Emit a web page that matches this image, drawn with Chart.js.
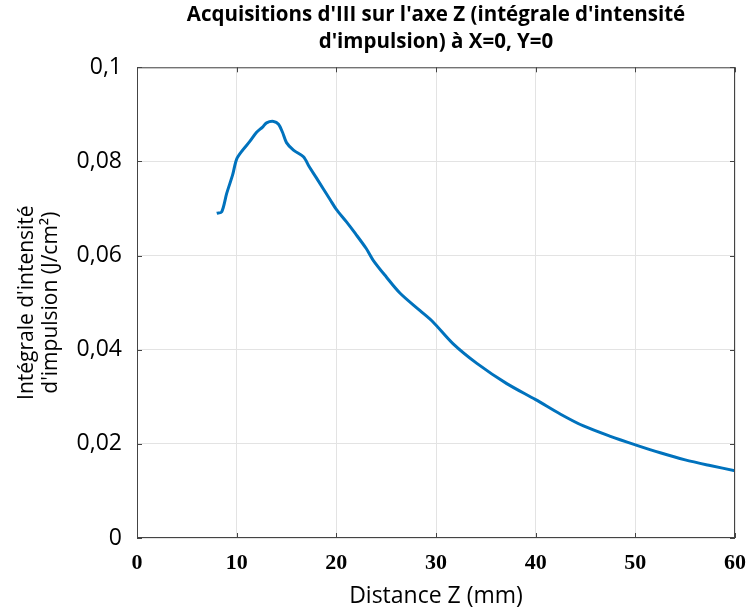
<!DOCTYPE html>
<html>
<head>
<meta charset="utf-8">
<script src="https://cdn.jsdelivr.net/npm/chart.js@4.4.1/dist/chart.umd.min.js"></script>
<style>
  html, body { margin: 0; padding: 0; background: #fff; }
  #wrap { width: 749px; height: 610px; }
</style>
</head>
<body>
<div id="wrap"><canvas id="chart" width="749" height="610"></canvas></div>
<script>
// values
var zDist = [8.0, 8.5, 9.0, 9.6, 10.0, 10.6, 11.3, 12.0, 12.6, 13.0, 13.7, 14.2, 14.6, 15.0, 15.7,
             16.7, 17.3, 18.0, 19.4, 20.0, 21.0, 21.9, 23.0, 23.7, 25.0, 26.4, 28.4, 29.7, 31.7,
             34.1, 37.1, 40.0, 42.5, 44.8, 47.5, 50.0, 52.5, 55.0, 57.5, 60.0];
var intensity = [0.0690, 0.0693, 0.0732, 0.0772, 0.0805, 0.0824, 0.0842, 0.0862, 0.0873, 0.0882, 0.0885,
                 0.0879, 0.0862, 0.0840, 0.0824, 0.0810, 0.0788, 0.0765, 0.0718, 0.0698, 0.0672, 0.0647,
                 0.0615, 0.0590, 0.0555, 0.0520, 0.0483, 0.0459, 0.0413, 0.0371, 0.0328, 0.0294, 0.0263,
                 0.0238, 0.0216, 0.0198, 0.0181, 0.0166, 0.0154, 0.0143];
var xTicks = [0, 10, 20, 30, 40, 50, 60];
var yTicks = [0, 0.02, 0.04, 0.06, 0.08, 0.1];

var points = zDist.map(function (z, i) { return { x: z, y: intensity[i] }; });

// frame with small inward ticks (matlab style box)
var boxPlugin = {
  id: 'box',
  afterDraw: function (chart) {
    var ctx = chart.ctx, a = chart.chartArea;
    var xs = chart.scales.x, ys = chart.scales.y;
    ctx.save();
    ctx.strokeStyle = '#444';
    ctx.lineWidth = 1;
    ctx.strokeRect(a.left + 0.5, a.top + 0.5, a.right - a.left - 1, a.bottom - a.top - 1);
    ctx.beginPath();
    xTicks.forEach(function (v) {
      var px = Math.round(xs.getPixelForValue(v)) + 0.5;
      ctx.moveTo(px, a.bottom); ctx.lineTo(px, a.bottom - 5);
      ctx.moveTo(px, a.top); ctx.lineTo(px, a.top + 5);
    });
    yTicks.forEach(function (v) {
      var py = Math.round(ys.getPixelForValue(v)) + 0.5;
      ctx.moveTo(a.left, py); ctx.lineTo(a.left + 5, py);
      ctx.moveTo(a.right, py); ctx.lineTo(a.right - 5, py);
    });
    ctx.stroke();
    ctx.restore();
  }
};

new Chart(document.getElementById('chart'), {
  type: 'line',
  data: {
    datasets: [{
      label: 'Intégrale',
      data: points,
      borderColor: '#0072BD',
      borderWidth: 3,
      pointRadius: 0,
      tension: 0.3,
      fill: false
    }]
  },
  options: {
    responsive: false,
    animation: false,
    layout: { padding: 0 },
    plugins: {
      legend: { display: false },
      tooltip: { enabled: false },
      title: {
        display: true,
        fullSize: false,
        text: ["Acquisitions d'III sur l'axe Z (intégrale d'intensité", "d'impulsion) à X=0, Y=0"],
        color: '#000',
        font: { family: 'Open Sans', size: 20.5, weight: 'bold', lineHeight: 1.3 },
        padding: { top: 2, bottom: 12 }
      }
    },
    scales: {
      x: {
        type: 'linear',
        min: 0, max: 60,
        afterBuildTicks: function (s) { s.ticks = xTicks.map(function (v) { return { value: v }; }); },
        afterFit: function (s) { s.height = 72; s.paddingRight = 14; },
        grid: { color: '#e3e3e3', drawTicks: false },
        border: { display: false },
        ticks: {
          color: '#000',
          padding: 12,
          maxRotation: 0,
          font: { family: 'Liberation Serif', size: 22, weight: 'bold' }
        },
        title: {
          display: true,
          text: 'Distance Z (mm)',
          color: '#000',
          font: { family: 'Open Sans', size: 23, lineHeight: 1.1 },
          padding: { top: 0, bottom: 1 }
        }
      },
      y: {
        min: 0, max: 0.1,
        afterBuildTicks: function (s) { s.ticks = yTicks.map(function (v) { return { value: v }; }); },
        afterFit: function (s) { s.width = 137; },
        grid: { color: '#e3e3e3', drawTicks: false },
        border: { display: false },
        ticks: {
          color: '#000',
          padding: 15,
          font: { family: 'Open Sans', size: 23 },
          callback: function (v) { return String(Math.round(v * 100) / 100).replace('.', ','); }
        },
        title: {
          display: true,
          text: ["Intégrale d'intensité", "d'impulsion (J/cm²)"],
          color: '#000',
          font: { family: 'Open Sans', size: 21, lineHeight: 1.14 },
          padding: { top: 15, bottom: 0 }
        }
      }
    }
  },
  plugins: [boxPlugin]
});
</script>
</body>
</html>
